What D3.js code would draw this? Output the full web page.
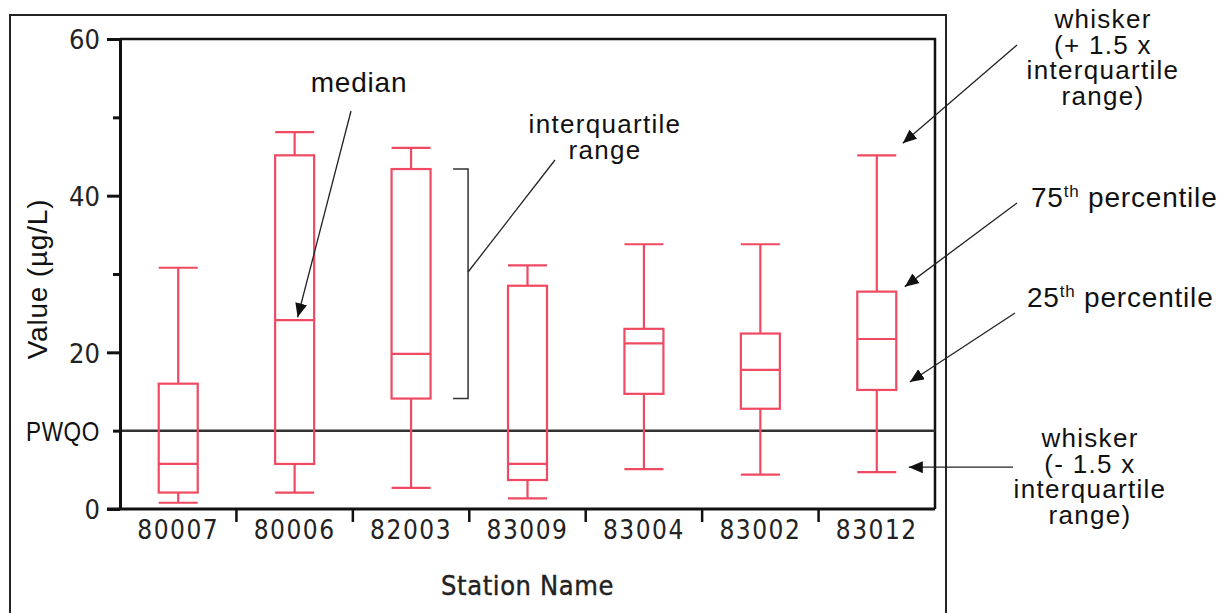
<!DOCTYPE html>
<html>
<head>
<meta charset="utf-8">
<script src="https://cdn.jsdelivr.net/npm/d3@7/dist/d3.min.js"></script>
<style>
  body { margin: 0; background: #fff; }
  svg { display: block; }
  .narrow { font-family: "Liberation Sans Narrow", "DejaVu Sans Condensed", sans-serif; fill: #222; }
  .note { font-family: "Liberation Sans", Arial, sans-serif; font-size: 28px; letter-spacing: 0.8px; fill: #111; }
  .multi { font-size: 26px; letter-spacing: 1.3px; }
</style>
</head>
<body>
<svg id="chart" width="1228" height="613"></svg>
<script>
// box plot values (µg/L)
var stations = ["80007", "80006", "82003", "83009", "83004", "83002", "83012"];
var whiskerLow  = [0.8, 2.1, 2.7, 1.35, 5.1, 4.4, 4.7];
var q1          = [2.1, 5.75, 14.1, 3.7, 14.7, 12.8, 15.2];
var median      = [5.75, 24.1, 19.8, 5.75, 21.15, 17.75, 21.7];
var q3          = [16.0, 45.15, 43.4, 28.5, 23.0, 22.4, 27.75];
var whiskerHigh = [30.8, 48.1, 46.1, 31.1, 33.8, 33.8, 45.15];

var majorTicks = [0, 20, 40, 60];
var minorTicks = [10, 30, 50];
var pwqo = 10;

var boxData = stations.map(function (s, i) {
	return { name: s, lo: whiskerLow[i], q1: q1[i], med: median[i], q3: q3[i], hi: whiskerHigh[i] };
});

var plotLeft = 120, plotRight = 935, plotTop = 39, plotBottom = 509;
var red = "#f04a62";

var svg = d3.select("#chart");

var x = d3.scaleBand().domain(stations).range([plotLeft, plotRight]).padding(0);
var y = d3.scaleLinear().domain([0, 60]).range([plotBottom, plotTop]);
var boxW = 39;

svg.append("defs").append("marker")
	.attr("id", "arrow")
	.attr("markerUnits", "userSpaceOnUse")
	.attr("viewBox", "0 0 14 12")
	.attr("refX", 14).attr("refY", 6)
	.attr("markerWidth", 14).attr("markerHeight", 12)
	.attr("orient", "auto")
	.append("path")
	.attr("d", "M0,0 L14,6 L0,12 Z")
	.attr("fill", "#111");

// outer frame (cut off at bottom)
svg.append("path")
	.attr("d", "M10,613 V15 H946 V613")
	.attr("fill", "none").attr("stroke", "#222").attr("stroke-width", 2);

// inner frame top and right
svg.append("path")
	.attr("d", "M" + plotLeft + "," + plotTop + " H" + plotRight + " V" + plotBottom)
	.attr("fill", "none").attr("stroke", "#111").attr("stroke-width", 2.5);

// PWQO line
svg.append("line")
	.attr("x1", plotLeft).attr("x2", plotRight)
	.attr("y1", y(pwqo)).attr("y2", y(pwqo))
	.attr("stroke", "#333").attr("stroke-width", 2.5);

// y axis
var yAxis = svg.append("g")
	.attr("transform", "translate(" + plotLeft + ",0)")
	.call(d3.axisLeft(y).tickValues(majorTicks).tickSize(13).tickSizeOuter(0).tickPadding(7));
svg.append("g")
	.attr("transform", "translate(" + plotLeft + ",0)")
	.call(d3.axisLeft(y).tickValues(minorTicks).tickSize(7).tickSizeOuter(0).tickFormat(""))
	.select(".domain").remove();
svg.selectAll("g .domain, g .tick line").attr("stroke", "#111").attr("stroke-width", 3);
yAxis.selectAll("text")
	.attr("class", "narrow")
	.attr("font-size", 27)
	.attr("dy", "0.36em");

svg.append("text")
	.attr("class", "note")
	.attr("x", 26).attr("y", y(pwqo))
	.attr("dy", "0.36em")
	.attr("font-size", 28)
	.attr("letter-spacing", 0)
	.attr("textLength", 74)
	.attr("lengthAdjust", "spacingAndGlyphs")
	.attr("fill", "#222")
	.text("PWQO");

// x axis: labels at centres, ticks on band boundaries
var xAxis = svg.append("g")
	.attr("transform", "translate(0," + plotBottom + ")")
	.call(d3.axisBottom(x).tickSize(0).tickSizeOuter(0).tickPadding(12));
xAxis.select(".domain")
	.attr("d", "M" + (plotLeft - 13) + ",0 H" + plotRight)
	.attr("stroke", "#111").attr("stroke-width", 3);
xAxis.selectAll("text")
	.attr("class", "narrow")
	.attr("font-size", 26)
	.attr("letter-spacing", 1.5)
	.attr("dy", "0.71em");
svg.append("g").selectAll("line")
	.data(stations.slice(1))
	.enter().append("line")
	.attr("x1", function (d) { return x(d); })
	.attr("x2", function (d) { return x(d); })
	.attr("y1", plotBottom).attr("y2", plotBottom + 13)
	.attr("stroke", "#111").attr("stroke-width", 2.5);

// axis titles
svg.append("text")
	.attr("class", "narrow")
	.attr("x", (plotLeft + plotRight) / 2).attr("y", 595)
	.attr("text-anchor", "middle")
	.attr("font-size", 27)
	.attr("letter-spacing", 0.6)
	.attr("stroke", "#222").attr("stroke-width", 0.4)
	.text("Station Name");

svg.append("text")
	.attr("class", "note")
	.attr("transform", "translate(47,279) rotate(-90)")
	.attr("text-anchor", "middle")
	.text("Value (µg/L)");

// boxes
var boxes = svg.append("g").selectAll("g")
	.data(boxData)
	.enter().append("g")
	.attr("transform", function (d) { return "translate(" + (x(d.name) + x.bandwidth() / 2) + ",0)"; })
	.attr("stroke", red).attr("stroke-width", 2.2).attr("fill", "none");

boxes.append("line")
	.attr("x1", 0).attr("x2", 0)
	.attr("y1", function (d) { return y(d.hi); })
	.attr("y2", function (d) { return y(d.q3); });
boxes.append("line")
	.attr("x1", 0).attr("x2", 0)
	.attr("y1", function (d) { return y(d.q1); })
	.attr("y2", function (d) { return y(d.lo); });
boxes.append("rect")
	.attr("x", -boxW / 2).attr("width", boxW)
	.attr("y", function (d) { return y(d.q3); })
	.attr("height", function (d) { return y(d.q1) - y(d.q3); })
	.attr("fill", "none");
["hi", "med", "lo"].forEach(function (k) {
	boxes.append("line")
		.attr("x1", -boxW / 2).attr("x2", boxW / 2)
		.attr("y1", function (d) { return y(d[k]); })
		.attr("y2", function (d) { return y(d[k]); });
});

// annotations
function arrow(x1, y1, x2, y2, head) {
	var l = svg.append("line")
		.attr("x1", x1).attr("y1", y1).attr("x2", x2).attr("y2", y2)
		.attr("stroke", "#222").attr("stroke-width", 1.3);
	if (head) l.attr("marker-end", "url(#arrow)");
}
function note(cx, y0, lines) {
	var t = svg.append("text").attr("class", lines.length > 1 ? "note multi" : "note").attr("text-anchor", "middle");
	lines.forEach(function (s, i) {
		t.append("tspan").attr("x", cx).attr("y", y0 + i * 25.5).text(s);
	});
	return t;
}

var c06 = x("80006") + x.bandwidth() / 2;
note(359, 92, ["median"]);
arrow(351, 111, c06 + 3, y(median[1]) - 3, true);

var bx = x("82003") + x.bandwidth() / 2 + 57;
svg.append("path")
	.attr("d", "M" + (bx - 15) + "," + y(q3[2]) + " H" + bx + " V" + y(q1[2]) + " H" + (bx - 15))
	.attr("fill", "none").attr("stroke", "#333").attr("stroke-width", 1.5);
note(605, 133, ["interquartile", "range"]);
arrow(bx, 272, 555, 160, false);

var rx = x("83012") + x.bandwidth() / 2 + 26;
note(1103, 28, ["whisker", "(+ 1.5 x", "interquartile", "range)"]);
arrow(1017, 45, rx, y(whiskerHigh[6]) - 12, true);

var t75 = svg.append("text").attr("class", "note").attr("x", 1031).attr("y", 207);
t75.append("tspan").text("75");
t75.append("tspan").attr("dy", -10).attr("font-size", 17).text("th");
t75.append("tspan").attr("dy", 10).text(" percentile");
arrow(1017, 203, rx + 2, y(q3[6]) - 5, true);

var t25 = svg.append("text").attr("class", "note").attr("x", 1027).attr("y", 307);
t25.append("tspan").text("25");
t25.append("tspan").attr("dy", -10).attr("font-size", 17).text("th");
t25.append("tspan").attr("dy", 10).text(" percentile");
arrow(1015, 313, rx + 7, y(q1[6]) - 8, true);

note(1090, 447, ["whisker", "(- 1.5 x", "interquartile", "range)"]);
arrow(1013, y(whiskerLow[6]) - 5, rx + 6, y(whiskerLow[6]) - 5, true);
</script>
</body>
</html>
